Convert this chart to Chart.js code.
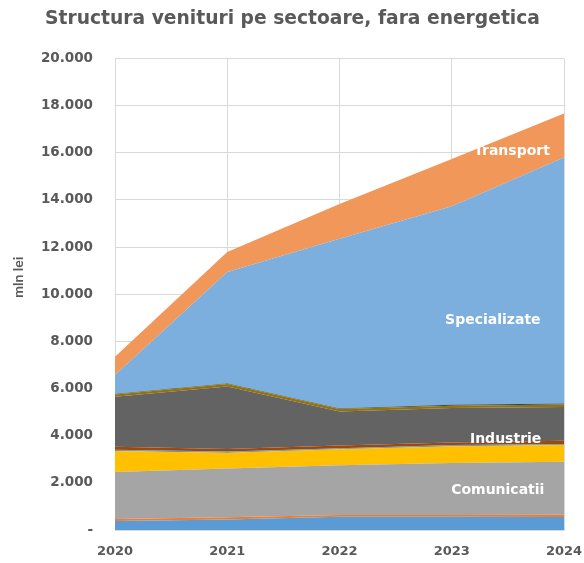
<!DOCTYPE html>
<html>
<head>
<meta charset="utf-8">
<script src="https://cdn.jsdelivr.net/npm/chart.js@4.4.1/dist/chart.umd.min.js"></script>
<style>
  html, body { margin: 0; padding: 0; background: #ffffff; }
  #wrap { width: 584px; height: 563px; position: relative; }
</style>
</head>
<body>
<div id="wrap"><canvas id="c" width="584" height="563"></canvas></div>
<script>
// ---- Data (mln lei) ----
const years = ['2020', '2021', '2022', '2023', '2024'];
const sector01 = [380, 450, 560, 560, 550];
const sector02 = [90, 90, 80, 80, 100];
const comunicatii = [1990, 2070, 2110, 2200, 2240];
const sector04 = [890, 670, 670, 710, 710];
const sector05 = [30, 30, 30, 30, 30];
const sector06 = [10, 10, 10, 10, 10];
const sector07 = [10, 10, 10, 10, 10];
const sector08 = [130, 110, 110, 110, 140];
const industrie = [2120, 2650, 1450, 1460, 1430];
const sector10 = [100, 100, 100, 100, 100];
const sector11 = [20, 20, 20, 40, 40];
const sector12 = [10, 10, 10, 10, 10];
const specializate = [790, 4725, 7190, 8410, 10430];
const transport = [775, 845, 1480, 2010, 1860];
const yTicksMax = 20000;
const yTicksStep = 2000;
const yAxisTitle = 'mln lei';

const series = [
  { label: 'Sector 1', data: sector01, color: '#5B9BD5' },
  { label: 'Sector 2', data: sector02, color: '#ED7D31' },
  { label: 'Comunicatii', data: comunicatii, color: '#A5A5A5', text: { x: 3.41, f: 0.474 } },
  { label: 'Sector 4', data: sector04, color: '#FFC000' },
  { label: 'Sector 5', data: sector05, color: '#4472C4' },
  { label: 'Sector 6', data: sector06, color: '#70AD47' },
  { label: 'Sector 7', data: sector07, color: '#255E91' },
  { label: 'Sector 8', data: sector08, color: '#9E480E' },
  { label: 'Industrie', data: industrie, color: '#636363', text: { x: 3.48, f: 0.075 } },
  { label: 'Sector 10', data: sector10, color: '#997300' },
  { label: 'Sector 11', data: sector11, color: '#264478' },
  { label: 'Sector 12', data: sector12, color: '#43682B' },
  { label: 'Specializate', data: specializate, color: '#7CAFDD', text: { x: 3.366, f: 0.389 } },
  { label: 'Transport', data: transport, color: '#F1975A', text: { x: 3.536, f: 0.64 } }
];

const WIDE = '"DejaVu Sans", Verdana, sans-serif';
const NARROW = 'Lato, Calibri, "Open Sans", sans-serif';
const GREY = '#595959';
const GRID = '#D9D9D9';

function fmt(v) {
  if (v === 0) return '-';
  return String(v).replace(/\B(?=(\d{3})+(?!\d))/g, '.');
}

const bandLabels = {
  id: 'bandLabels',
  afterDatasetsDraw(chart) {
    const ctx = chart.ctx;
    const xs = chart.scales.x, ys = chart.scales.y;
    ctx.save();
    ctx.font = 'bold 14px ' + WIDE;
    ctx.fillStyle = '#FFFFFF';
    ctx.textAlign = 'center';
    ctx.textBaseline = 'middle';
    series.forEach((s, idx) => {
      if (!s.text) return;
      const i0 = Math.floor(s.text.x), i1 = Math.min(i0 + 1, years.length - 1);
      const t = s.text.x - i0;
      const base = (i) => series.slice(0, idx).reduce((a, d) => a + d.data[i], 0);
      const b0 = base(i0), b1 = base(i1);
      const bot = b0 + (b1 - b0) * t;
      const top = (b0 + s.data[i0]) + ((b1 + s.data[i1]) - (b0 + s.data[i0])) * t;
      const v = bot + (top - bot) * s.text.f;
      ctx.fillText(s.label, xs.getPixelForValue(s.text.x), ys.getPixelForValue(v));
    });
    // y axis title
    const ca = chart.chartArea;
    ctx.font = 'bold 14px ' + NARROW;
    ctx.fillStyle = GREY;
    ctx.translate(18, (ca.top + ca.bottom) / 2 - 17);
    ctx.rotate(-Math.PI / 2);
    ctx.fillText(yAxisTitle, 0, 0);
    ctx.restore();
  }
};

new Chart(document.getElementById('c'), {
  type: 'line',
  data: {
    labels: years,
    datasets: series.map((s, i) => ({
      label: s.label,
      data: s.data,
      backgroundColor: s.color,
      borderColor: s.color,
      borderWidth: 0,
      pointRadius: 0,
      pointHoverRadius: 0,
      tension: 0,
      fill: i === 0 ? 'origin' : '-1'
    }))
  },
  options: {
    responsive: false,
    animation: false,
    events: [],
    layout: { padding: { left: 10, right: 9, top: 0, bottom: 2 } },
    plugins: {
      legend: { display: false },
      tooltip: { enabled: false },
      title: {
        display: true,
        text: 'Structura venituri pe sectoare, fara energetica',
        color: GREY,
        font: { family: WIDE, size: 18.7, weight: 'bold' },
        padding: { top: 8, bottom: 28 }
      }
    },
    scales: {
      x: {
        offset: false,
        grid: { color: GRID, lineWidth: 1, drawTicks: false },
        border: { color: GRID },
        ticks: {
          color: GREY,
          padding: 14,
          maxRotation: 0,
          font: { family: WIDE, size: 13, weight: 'bold' }
        },
        afterFit(scale) {
          scale.height = 31;
          scale.paddingLeft = 0;
          scale.paddingRight = 20;
        }
      },
      y: {
        stacked: true,
        min: 0,
        max: yTicksMax,
        grid: { color: GRID, lineWidth: 1, drawTicks: false },
        border: { color: GRID },
        ticks: {
          stepSize: yTicksStep,
          color: GREY,
          padding: 22,
          font: { family: WIDE, size: 13.5, weight: 'bold' },
          callback: (v) => fmt(v)
        },
        afterFit(scale) {
          scale.width = 105;
          scale.paddingTop = 0;
          scale.paddingBottom = 0;
        }
      }
    }
  },
  plugins: [bandLabels]
});
</script>
</body>
</html>
